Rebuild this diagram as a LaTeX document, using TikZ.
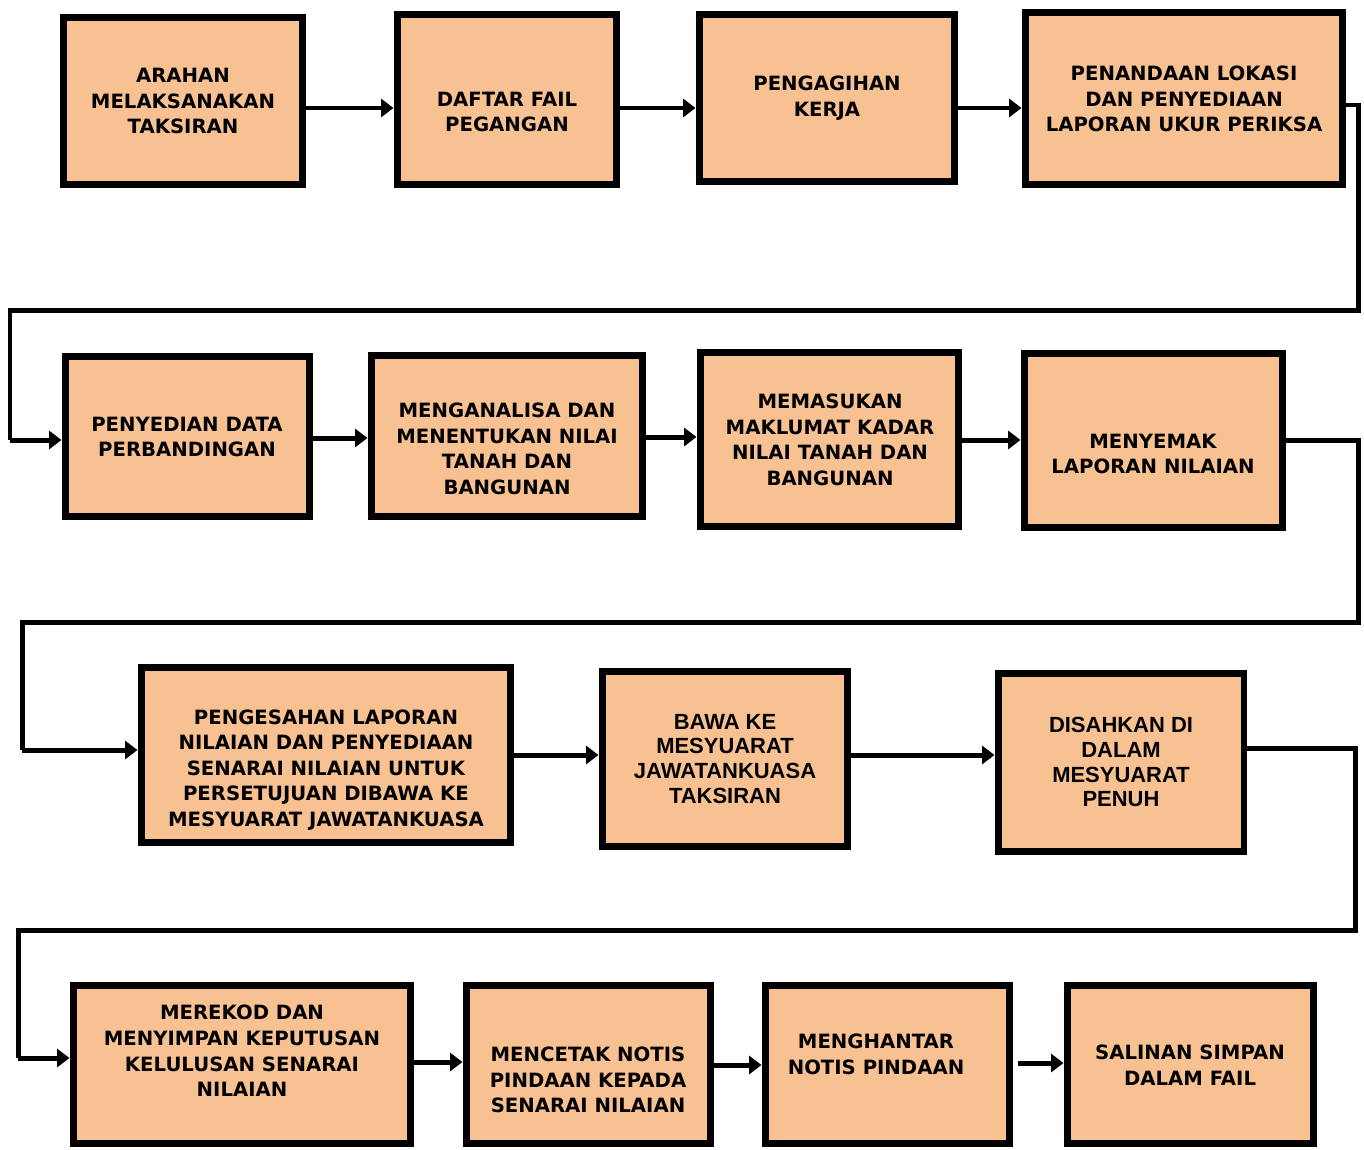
\documentclass[tikz,border=0pt]{standalone}
\usepackage{fontspec}
\setmainfont{DejaVu Sans}
\newfontfamily\arialfont{Liberation Sans}
\usetikzlibrary{arrows.meta}
\definecolor{peach}{RGB}{248,193,145}
\tikzset{
  kotak/.style={draw=black, fill=peach, line width=0.14cm, inner sep=0pt},
  teks/.style={align=center, font=\fontsize{11.2}{14.6}\selectfont\bfseries, inner sep=0pt},
  teksarial/.style={align=center, font=\arialfont\fontsize{12.5}{14.2}\selectfont\bfseries, inner sep=0pt},
  panah/.style={line width=0.1cm, -{Triangle[length=0.25cm,width=0.36cm]}},
  garis/.style={line width=0.1cm}
}
\begin{document}
\begin{tikzpicture}[x=0.02cm, y=-0.02cm]
            \useasboundingbox (0,0) rectangle (1364,1149);
            % baris 1
            \node [kotak, minimum width=4.80cm, minimum height=3.36cm] (b1) at (183,101) {};
            \node [kotak, minimum width=4.40cm, minimum height=3.42cm] (b2) at (507,99.5) {};
            \node [kotak, minimum width=5.12cm, minimum height=3.36cm] (b3) at (827,98) {};
            \node [kotak, minimum width=6.36cm, minimum height=3.46cm] (b4) at (1184,98.5) {};
            \node [teks] (t1) at (183,101) {ARAHAN\\MELAKSANAKAN\\TAKSIRAN};
            \node [teks] (t2) at (507,112) {DAFTAR FAIL\\PEGANGAN};
            \node [teks] (t3) at (827,98) {PENGAGIHAN\\KERJA};
            \node [teks] (t4) at (1184,99) {PENANDAAN LOKASI\\DAN PENYEDIAAN\\LAPORAN UKUR PERIKSA};
            \draw [panah] (b1.east |- 0,108) -- (b2.west |- 0,108);
            \draw [panah] (b2.east |- 0,108) -- (b3.west |- 0,108);
            \draw [panah] (b3.east |- 0,108) -- (b4.west |- 0,108);
            % baris 2
            \node [kotak, minimum width=4.90cm, minimum height=3.22cm] (b5) at (187.5,436.5) {};
            \node [kotak, minimum width=5.44cm, minimum height=3.24cm] (b6) at (507,436) {};
            \node [kotak, minimum width=5.18cm, minimum height=3.50cm] (b7) at (829.5,439.5) {};
            \node [kotak, minimum width=5.18cm, minimum height=3.50cm] (b8) at (1153.5,440.5) {};
            \node [teks] (t5) at (187,437) {PENYEDIAN DATA\\PERBANDINGAN};
            \node [teks] (t6) at (507,449) {MENGANALISA DAN\\MENENTUKAN NILAI\\TANAH DAN\\BANGUNAN};
            \node [teks] (t7) at (830,440) {MEMASUKAN\\MAKLUMAT KADAR\\NILAI TANAH DAN\\BANGUNAN};
            \node [teks] (t8) at (1153,454) {MENYEMAK\\LAPORAN NILAIAN};
            \draw [garis] (b4.east |- 0,105) -- (1358,105) -- (1358,310) -- (10,310) -- (10,440);
            \draw [panah] (10,440) -- (b5.west |- 0,440);
            \draw [panah] (b5.east |- 0,438) -- (b6.west |- 0,438);
            \draw [panah] (b6.east |- 0,437) -- (b7.west |- 0,437);
            \draw [panah] (b7.east |- 0,440) -- (b8.west |- 0,440);
            % baris 3
            \node [kotak, minimum width=7.40cm, minimum height=3.52cm] (b9) at (326,755) {};
            \node [kotak, minimum width=4.92cm, minimum height=3.52cm] (b10) at (725,759) {};
            \node [kotak, minimum width=4.92cm, minimum height=3.58cm] (b11) at (1121,762.5) {};
            \node [teks] (t9) at (326,770) {PENGESAHAN LAPORAN\\NILAIAN DAN PENYEDIAAN\\SENARAI NILAIAN UNTUK\\PERSETUJUAN DIBAWA KE\\MESYUARAT JAWATANKUASA};
            \node [teksarial] (t10) at (725,759) {BAWA KE\\MESYUARAT\\JAWATANKUASA\\TAKSIRAN};
            \node [teksarial] (t11) at (1121,762) {DISAHKAN DI\\DALAM\\MESYUARAT\\PENUH};
            \draw [garis] (b8.east) -- (1358,440.5) -- (1358,622) -- (22,622) -- (22,750);
            \draw [panah] (22,750) -- (b9.west |- 0,750);
            \draw [panah] (b9.east |- 0,755) -- (b10.west |- 0,755);
            \draw [panah] (b10.east |- 0,755) -- (b11.west |- 0,755);
            % baris 4
            \node [kotak, minimum width=6.76cm, minimum height=3.16cm] (b12) at (242,1064) {};
            \node [kotak, minimum width=4.90cm, minimum height=3.16cm] (b13) at (588.5,1064) {};
            \node [kotak, minimum width=4.90cm, minimum height=3.16cm] (b14) at (887.5,1064) {};
            \node [kotak, minimum width=4.92cm, minimum height=3.16cm] (b15) at (1190,1064) {};
            \node [teks] (t12) at (242,1051) {MEREKOD DAN\\MENYIMPAN KEPUTUSAN\\KELULUSAN SENARAI\\NILAIAN};
            \node [teks] (t13) at (588,1080) {MENCETAK NOTIS\\PINDAAN KEPADA\\SENARAI NILAIAN};
            \node [teks] (t14) at (876,1054) {MENGHANTAR\\NOTIS PINDAAN};
            \node [teks] (t15) at (1190,1065) {SALINAN SIMPAN\\DALAM FAIL};
            \draw [garis] (b11.east |- 0,748) -- (1355,748) -- (1355,930) -- (18,930) -- (18,1058);
            \draw [panah] (18,1058) -- (b12.west |- 0,1058);
            \draw [panah] (b12.east |- 0,1062) -- (b13.west |- 0,1062);
            \draw [panah] (b13.east |- 0,1065) -- (b14.west |- 0,1065);
            \draw [panah] (1018,1063) -- (b15.west |- 0,1063);
\end{tikzpicture}
\end{document}
